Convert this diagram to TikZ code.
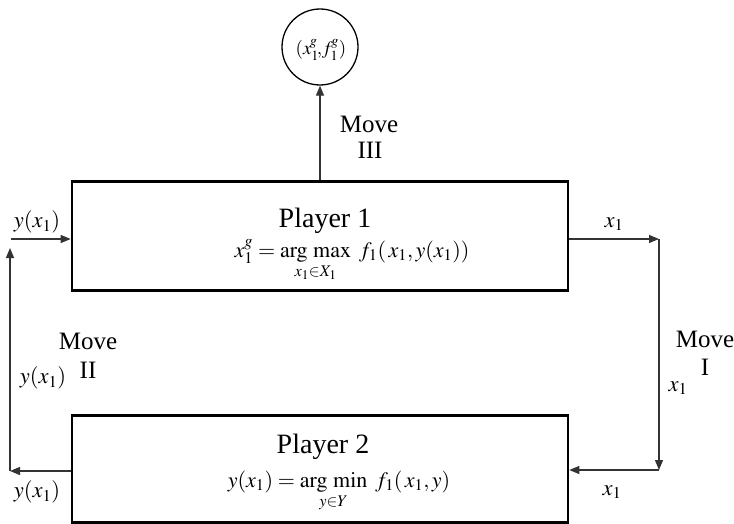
\documentclass[tikz,border=0pt]{standalone}
\usepackage{mathptmx}
\usepackage[no-math]{fontspec}
\setmainfont{Liberation Serif}
\usetikzlibrary{arrows.meta}
\tikzset{
  box/.style={draw=black, line width=2.6pt, inner sep=0pt},
  arr/.style={draw=black!80, line width=1.2pt, -{Triangle[length=10pt,width=8pt]}},
  lbl/.style={font=\fontsize{22.5}{22.5}\selectfont, inner sep=0pt},
  mv/.style={font=\fontsize{25}{25}\selectfont, inner sep=0pt, anchor=base},
  ttl/.style={font=\fontsize{28}{28}\selectfont, inner sep=0pt, anchor=base},
  frm/.style={font=\fontsize{22}{22}\selectfont, inner sep=0pt, anchor=base},
}
\begin{document}
\begin{tikzpicture}[x=1pt,y=-1pt]
\useasboundingbox (0,0) rectangle (734,524);
% boxes
\node[box, minimum width=496pt, minimum height=109pt] (p1) at (320,236) {};
\node[box, minimum width=496pt, minimum height=107pt] (p2) at (320,469) {};
% circle
\node[draw=black, line width=1.3pt, circle, minimum size=76pt, inner sep=0pt] (c) at (320,47) {};
\node[font=\fontsize{19}{19}\selectfont, inner sep=0pt, anchor=base] (ct) at (321,55) {$(x_1^{\!g}\!,\!f_1^{\!g})$};
% texts in boxes
\node[ttl] (t1) at (325,227) {Player 1};
\node[frm] (f1) at (352,257) {$x_1^g = \mathop{\mathrm{arg\ max}}\limits_{x_1\in X_1}\ f_1(\,x_1,y(x_1))$};
\node[ttl] (t2) at (323,453) {Player 2};
\node[frm] (f2) at (339,487) {$y(x_1) = \mathop{\mathrm{arg\ min}}\limits_{y\in Y}\ f_1(\,x_1,y)$};
% coordinates
\coordinate (r1) at (659,239);
\coordinate (r2) at (659,470);
\coordinate (l1) at (11,239);
\coordinate (l2) at (10,471);
\coordinate (l3) at (10,248);
% connectors
\draw[arr] (p1.north) -- (c.south);
\draw[arr] (p1.east |- r1) -- (r1);
\draw[arr] (r1) -- (r2);
\draw[arr] (r2) -- (p2.east |- r2);
\draw[arr] (p2.west |- l2) -- (l2);
\draw[arr] (l2) -- (l3);
\draw[arr] (l1) -- (p1.west |- l1);
% labels
\node[mv] (m3a) at (369,133) {Move};
\node[mv] (m3b) at (370,159) {III};
\node[mv] (m1a) at (705,347) {Move};
\node[mv] (m1b) at (705,375) {I};
\node[mv] (m2a) at (88,349) {Move};
\node[mv] (m2b) at (88,378) {II};
\node[lbl] (a1) at (37,222) {$y(x_1)$};
\node[lbl] (a2) at (614,224) {$x_1$};
\node[lbl] (a3) at (678,388) {$x_1$};
\node[lbl] (a4) at (612,492) {$x_1$};
\node[lbl] (a5) at (37,492) {$y(x_1)$};
\node[lbl] (a6) at (43,378) {$y(x_1)$};
\end{tikzpicture}
\end{document}
